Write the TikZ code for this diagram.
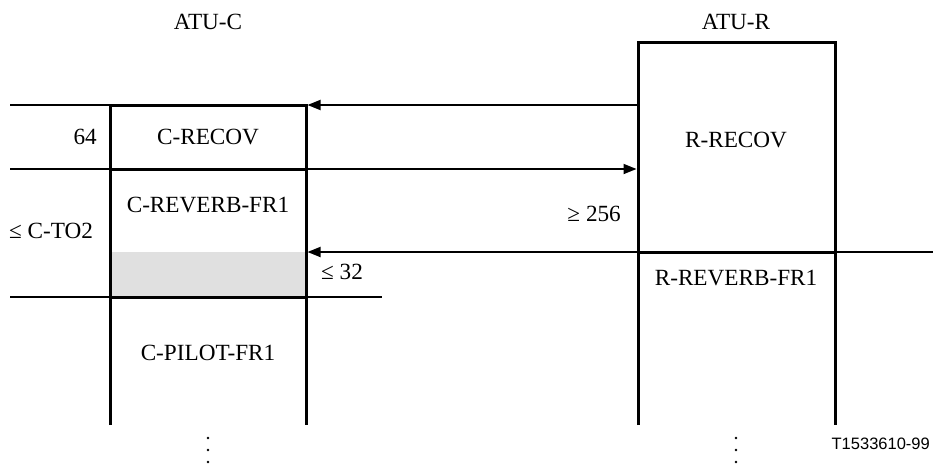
\documentclass[tikz,border=0pt]{standalone}
\usepackage{fontspec}
\setmainfont{Liberation Serif}
\newfontfamily\labelsans{Liberation Sans}
\usetikzlibrary{arrows.meta}
\definecolor{lightgreyfill}{RGB}{224,224,224}
\begin{document}
\begin{tikzpicture}[x=1pt,y=-1pt,
  boxline/.style={line width=3pt},
  thinline/.style={line width=1.8pt},
  arr/.style={thinline,-{Triangle[length=13pt,width=10pt]}},
  lbl/.style={font=\fontsize{23.2}{27}\selectfont, inner sep=0pt},
  dot/.style={circle,fill=black,inner sep=0pt,minimum size=2.6pt}]
\useasboundingbox (0,0) rectangle (933,466);
% coordinates
\coordinate (cTL) at (110,105);
\coordinate (cTR) at (306,105);
\coordinate (cBL) at (110,425);
\coordinate (cBR) at (306,425);
\coordinate (rTL) at (638,42);
\coordinate (rTR) at (835,42);
\coordinate (rBL) at (638,425);
\coordinate (rBR) at (835,425);
\coordinate (l105) at (10,105);
\coordinate (r105) at (638,105);
\coordinate (l169) at (10,169);
\coordinate (c169) at (110,169);
\coordinate (d169) at (306,169);
\coordinate (r169) at (638,169);
\coordinate (e252) at (933,252);
\coordinate (r252) at (835,252);
\coordinate (q252) at (638,252);
\coordinate (c252) at (306,252);
\coordinate (l297) at (10,297);
\coordinate (c297) at (110,297);
\coordinate (d297) at (306,297);
\coordinate (e297) at (382,297);
% shaded part
\fill[lightgreyfill] (110,252) rectangle (306,297);
% thin lines and arrows
\draw[thinline] (l105) -- (cTL);
\draw[arr] (r105) -- ([xshift=1.5pt]cTR);
\draw[arr] (l169) -- ([xshift=-1.5pt]r169);
\draw[arr] (e252) -- ([xshift=1.5pt]c252);
\draw[thinline] (l297) -- (e297);
% box boundaries
\draw[boxline] (c169) -- (d169);
\draw[boxline] (c297) -- (d297);
\draw[boxline] (q252) -- (r252);
\draw[boxline] (cBL) -- (cTL) -- (cTR) -- (cBR);
\draw[boxline] (rBL) -- (rTL) -- (rTR) -- (rBR);
% labels
\node[lbl] (atuc) at (208,22) {ATU-C};
\node[lbl] (atur) at (736,22) {ATU-R};
\node[lbl,anchor=east] (n64) at (97,137) {64};
\node[lbl] (crecov) at (208,137) {C-RECOV};
\node[lbl] (creverb) at (208,205) {C-REVERB-FR1};
\node[lbl,anchor=west] (cto) at (9,231) {≤ C-TO2};
\node[lbl,anchor=west] (n32) at (321,272) {≤ 32};
\node[lbl] (cpilot) at (208,353) {C-PILOT-FR1};
\node[lbl] (rrecov) at (736,140) {R-RECOV};
\node[lbl,anchor=east] (n256) at (621,214) {≥ 256};
\node[lbl] (rreverb) at (736,278) {R-REVERB-FR1};
\node[font=\labelsans\fontsize{16.5}{20}\selectfont,inner sep=0pt,anchor=east] (tag) at (930,444) {T1533610-99};
% continuation dots
\foreach \x/\n in {208/a,736/b}{
  \node[dot] (\n1) at (\x,438) {};
  \node[dot] (\n2) at (\x,450) {};
  \node[dot] (\n3) at (\x,462) {};
}
\end{tikzpicture}
\end{document}
